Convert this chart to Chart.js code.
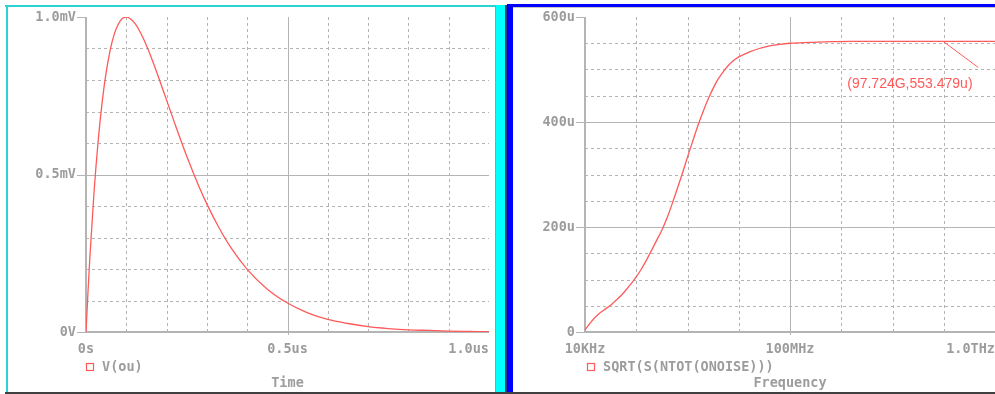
<!DOCTYPE html>
<html>
<head>
<meta charset="utf-8">
<script src="https://cdn.jsdelivr.net/npm/chart.js@4.4.1/dist/chart.umd.min.js"></script>
<style>
  html, body { margin: 0; padding: 0; background: #fff; }
  body { width: 995px; height: 394px; overflow: hidden; position: relative; }
  .bar { position: absolute; }
  canvas { position: absolute; }
</style>
</head>
<body>
<div class="bar" style="left:5px;top:5px;width:492px;height:2px;background:#2cd3d3"></div>
<div class="bar" style="left:6px;top:5px;width:2px;height:387px;background:#2cd3d3"></div>
<div class="bar" style="left:495px;top:7px;width:1px;height:385px;background:#9a9a9a"></div>
<div class="bar" style="left:496px;top:5px;width:9px;height:387px;background:#00ffff"></div>
<div class="bar" style="left:505px;top:5px;width:2px;height:387px;background:#3c3c7c"></div>
<div class="bar" style="left:507px;top:4px;width:6px;height:388px;background:#0000ff"></div>
<div class="bar" style="left:507px;top:4px;width:488px;height:3px;background:#0000ff"></div>
<div class="bar" style="left:513px;top:7px;width:482px;height:1px;background:#c8c8c8"></div>
<div class="bar" style="left:5px;top:392px;width:990px;height:2px;background:#404040"></div>

<canvas id="left-chart" width="487" height="384" style="left:8px;top:8px"></canvas>
<canvas id="right-chart" width="490" height="384" style="left:513px;top:8px"></canvas>

<script>
// left plot: transient pulse
const timeUs = [0, 0.005, 0.01, 0.02, 0.03, 0.04, 0.05, 0.06, 0.07, 0.08, 0.09, 0.10,
  0.12, 0.14, 0.16, 0.18, 0.20, 0.22, 0.25, 0.28, 0.30, 0.33, 0.36, 0.40, 0.45, 0.50,
  0.55, 0.60, 0.65, 0.70, 0.75, 0.80, 0.85, 0.90, 0.95, 1.00];
const voltMv = [0, 0.129, 0.246, 0.445, 0.604, 0.729, 0.824, 0.895, 0.945, 0.977, 0.995, 1.0,
  0.982, 0.938, 0.878, 0.809, 0.736, 0.663, 0.558, 0.463, 0.406, 0.331, 0.267, 0.199, 0.136, 0.092,
  0.061, 0.040, 0.027, 0.017, 0.011, 0.007, 0.005, 0.003, 0.002, 0.001];
const timeTicks = [0, 0.5, 1.0];
const timeLabels = ["0s", "0.5us", "1.0us"];
const timeMinor = [0.1, 0.2, 0.3, 0.4, 0.6, 0.7, 0.8, 0.9];
const voltTicks = [0, 0.5, 1.0];
const voltLabels = ["0V", "0.5mV", "1.0mV"];
const voltMinor = [0.1, 0.2, 0.3, 0.4, 0.6, 0.7, 0.8, 0.9];

// right plot: output noise vs frequency
const freqHz = [1e4, 1.26e4, 1.58e4, 2.0e4, 2.51e4, 3.16e4, 3.98e4, 5.01e4, 6.31e4, 7.94e4,
  1e5, 1.26e5, 1.58e5, 2.0e5, 2.51e5, 3.16e5, 3.98e5, 5.01e5, 6.31e5, 7.94e5,
  1e6, 1.26e6, 1.58e6, 2.0e6, 2.51e6, 3.16e6, 3.98e6, 5.01e6, 6.31e6, 7.94e6,
  1e7, 1.58e7, 2.51e7, 3.98e7, 6.31e7, 1e8, 2.51e8, 6.31e8, 1.58e9, 1e10, 1e11, 1e12];
const noiseU = [4, 17, 28, 37, 44, 51, 60, 69, 80, 92,
  105, 120, 137, 156, 175, 194, 217, 244, 273, 302,
  333, 363, 392, 419, 443, 464, 482, 496, 508, 517,
  524, 533, 540, 545, 548, 550, 551.5, 553, 553.4, 553.47, 553.479, 553.48];
const freqTicks = [1e4, 1e8, 1e12];
const freqLabels = ["10KHz", "100MHz", "1.0THz"];
const freqMinor = [1e5, 1e6, 1e7, 1e9, 1e10, 1e11];
const noiseTicks = [0, 200, 400, 600];
const noiseLabels = ["0", "200u", "400u", "600u"];
const noiseMinor = [50, 100, 150, 250, 300, 350, 450, 500, 550];

const cursorPoint = { x: 97.724e9, y: 553.479, text: "(97.724G,553.479u)" };

const RED = "#ff5a5a";
const TEXT = "#9c9c9c";
const GRID = "#b4b4b4";
const FONT = "bold 13.5px 'DejaVu Sans Mono', monospace";

function framePlugin(cfg) {
  return {
    id: "frame",
    beforeDatasetsDraw(chart) {
      const { ctx, chartArea: a, scales: { x, y } } = chart;
      ctx.save();
      ctx.lineWidth = 1;
      ctx.strokeStyle = GRID;
      ctx.setLineDash([3, 3]);
      ctx.beginPath();
      cfg.xMinor.forEach((v) => {
        const px = Math.round(x.getPixelForValue(v)) + 0.5;
        ctx.moveTo(px, a.top);
        ctx.lineTo(px, a.bottom);
      });
      cfg.yMinor.forEach((v) => {
        const py = Math.round(y.getPixelForValue(v)) + 0.5;
        ctx.moveTo(a.left, py);
        ctx.lineTo(a.right, py);
      });
      ctx.stroke();

      ctx.setLineDash([]);
      ctx.beginPath();
      cfg.xTicks.slice(1, -1).forEach((v) => {
        const px = Math.round(x.getPixelForValue(v)) + 0.5;
        ctx.moveTo(px, a.top);
        ctx.lineTo(px, a.bottom + 3);
      });
      cfg.yTicks.slice(1, -1).forEach((v) => {
        const py = Math.round(y.getPixelForValue(v)) + 0.5;
        ctx.moveTo(a.left, py);
        ctx.lineTo(a.right, py);
      });
      cfg.yTicks.forEach((v) => {
        const py = Math.round(y.getPixelForValue(v)) + 0.5;
        ctx.moveTo(a.left - 9, py);
        ctx.lineTo(a.left, py);
      });
      ctx.stroke();

      ctx.lineWidth = 2;
      ctx.beginPath();
      ctx.moveTo(a.left, a.top);
      ctx.lineTo(a.left, a.bottom);
      ctx.lineTo(a.right, a.bottom);
      ctx.stroke();
      ctx.restore();
    },
    afterDraw(chart) {
      const { ctx, chartArea: a, scales: { x, y } } = chart;
      ctx.save();
      ctx.font = FONT;
      ctx.fillStyle = TEXT;
      ctx.textBaseline = "middle";

      ctx.textAlign = "right";
      cfg.yTicks.forEach((v, i) => {
        ctx.fillText(cfg.yLabels[i], a.left - 10, y.getPixelForValue(v));
      });

      cfg.xTicks.forEach((v, i) => {
        const last = i === cfg.xTicks.length - 1;
        ctx.textAlign = last ? "right" : "center";
        const px = last ? a.right : x.getPixelForValue(v);
        ctx.fillText(cfg.xLabels[i], px, a.bottom + 17);
      });

      ctx.textAlign = "center";
      ctx.fillText(cfg.title, (a.left + a.right) / 2, a.bottom + 51);

      ctx.textAlign = "left";
      ctx.fillText(cfg.legend, a.left + cfg.legendDx + 16, a.bottom + 35);
      ctx.strokeStyle = RED;
      ctx.lineWidth = 1.2;
      ctx.strokeRect(a.left + cfg.legendDx + 0.5, a.bottom + 31.5, 7, 7);

      if (cfg.cursor) {
        const px = x.getPixelForValue(cfg.cursor.x);
        const py = y.getPixelForValue(cfg.cursor.y);
        ctx.lineWidth = 1;
        ctx.beginPath();
        ctx.moveTo(px, py);
        ctx.lineTo(px + 35, py + 26);
        ctx.stroke();
        ctx.font = "14px 'Liberation Sans', Arial, sans-serif";
        ctx.fillStyle = RED;
        ctx.fillText(cfg.cursor.text, px - 96, py + 43);
      }
      ctx.restore();
    },
  };
}

function baseOptions(padding, xScale, yScale) {
  return {
    responsive: false,
    animation: false,
    layout: { padding },
    scales: { x: xScale, y: yScale },
    plugins: { legend: { display: false }, tooltip: { enabled: false } },
    elements: { point: { radius: 0 } },
  };
}

new Chart(document.getElementById("left-chart"), {
  type: "line",
  data: {
    datasets: [{
      data: timeUs.map((t, i) => ({ x: t, y: voltMv[i] })),
      borderColor: RED,
      borderWidth: 1.3,
      cubicInterpolationMode: "monotone",
    }],
  },
  options: baseOptions(
    { left: 78, top: 9, right: 6, bottom: 60 },
    { type: "linear", min: 0, max: 1, display: false },
    { type: "linear", min: 0, max: 1, display: false }
  ),
  plugins: [framePlugin({
    xTicks: timeTicks, xLabels: timeLabels, xMinor: timeMinor,
    yTicks: voltTicks, yLabels: voltLabels, yMinor: voltMinor,
    title: "Time", legend: "V(ou)", legendDx: 0,
  })],
});

new Chart(document.getElementById("right-chart"), {
  type: "line",
  data: {
    datasets: [{
      data: freqHz.map((f, i) => ({ x: f, y: noiseU[i] })),
      borderColor: RED,
      borderWidth: 1.3,
      cubicInterpolationMode: "monotone",
    }],
  },
  options: baseOptions(
    { left: 72, top: 9, right: 8, bottom: 60 },
    { type: "logarithmic", min: 1e4, max: 1e12, display: false },
    { type: "linear", min: 0, max: 600, display: false }
  ),
  plugins: [framePlugin({
    xTicks: freqTicks, xLabels: freqLabels, xMinor: freqMinor,
    yTicks: noiseTicks, yLabels: noiseLabels, yMinor: noiseMinor,
    title: "Frequency", legend: "SQRT(S(NTOT(ONOISE)))", legendDx: 2,
    cursor: cursorPoint,
  })],
});
</script>
</body>
</html>
